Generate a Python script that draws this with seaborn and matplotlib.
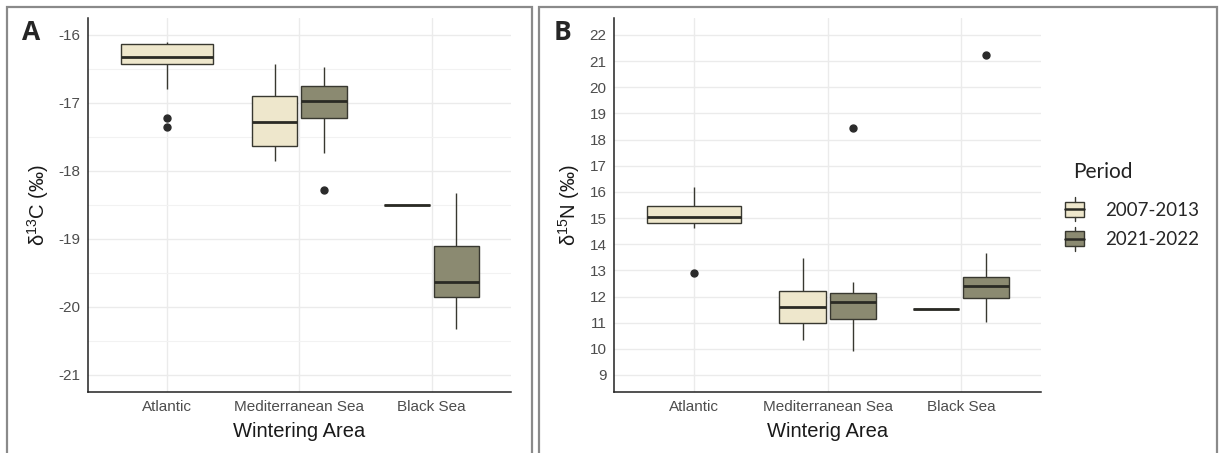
import matplotlib
matplotlib.use("Agg")
import matplotlib.pyplot as plt
from matplotlib.patches import Rectangle
from matplotlib.lines import Line2D
from matplotlib.legend_handler import HandlerBase
from matplotlib.ticker import MultipleLocator
import pandas as pd
import seaborn as sns

areas = ["Atlantic", "Mediterranean Sea", "Black Sea"]
periods = ["2007-2013", "2021-2022"]

c13_atlantic_0713 = [-17.35, -17.22, -16.80, -16.43, -16.40, -16.36, -16.32,
                     -16.25, -16.20, -16.13, -16.12, -16.11, -16.10]
c13_med_0713 = [-17.86, -17.75, -17.63, -17.45, -17.28, -17.10, -16.89, -16.65, -16.42]
c13_med_2122 = [-18.28, -17.74, -17.22, -17.10, -16.97, -16.88, -16.75, -16.60, -16.47]
c13_black_0713 = [-18.50, -18.50]
c13_black_2122 = [-20.33, -20.05, -19.85, -19.75, -19.63, -19.40, -19.11, -18.70, -18.32]

# delta 15N (per mil)
n15_atlantic_0713 = [12.91, 14.63, 14.70, 14.80, 14.90, 14.98, 15.05,
                     15.15, 15.30, 15.47, 15.70, 15.95, 16.17]
n15_med_0713 = [10.34, 10.70, 11.00, 11.30, 11.59, 11.90, 12.20, 12.80, 13.49]
n15_med_2122 = [9.93, 10.60, 11.14, 11.50, 11.79, 12.00, 12.15, 12.57, 18.43]
n15_black_0713 = [11.52, 11.52]
n15_black_2122 = [11.01, 11.50, 11.96, 12.20, 12.42, 12.60, 12.76, 13.68, 21.24]


def long_table(groups):
    rows = []
    for area, period, vals in groups:
        for v in vals:
            rows.append({"area": area, "period": period, "value": v})
    return pd.DataFrame(rows)


df_c = long_table([
    ("Atlantic", "2007-2013", c13_atlantic_0713),
    ("Mediterranean Sea", "2007-2013", c13_med_0713),
    ("Mediterranean Sea", "2021-2022", c13_med_2122),
    ("Black Sea", "2007-2013", c13_black_0713),
    ("Black Sea", "2021-2022", c13_black_2122),
])
df_n = long_table([
    ("Atlantic", "2007-2013", n15_atlantic_0713),
    ("Mediterranean Sea", "2007-2013", n15_med_0713),
    ("Mediterranean Sea", "2021-2022", n15_med_2122),
    ("Black Sea", "2007-2013", n15_black_0713),
    ("Black Sea", "2021-2022", n15_black_2122),
])

pal = {"2007-2013": "#EEE7CC", "2021-2022": "#8B8A71"}
edge = "#383830"

sns.set_style("white")
plt.rcParams["font.family"] = ["Liberation Sans", "DejaVu Sans"]
plt.rcParams["mathtext.fontset"] = "custom"
plt.rcParams["mathtext.rm"] = "Liberation Sans"
plt.rcParams["axes.unicode_minus"] = False

box_kw = dict(linecolor=edge, linewidth=1, saturation=1, showcaps=False,
              medianprops={"linewidth": 2, "color": "#2a2a24"},
              flierprops={"marker": "o", "markersize": 5,
                          "markerfacecolor": "#2b2b2b", "markeredgecolor": "#2b2b2b"})

fig = plt.figure(figsize=(12.2, 4.53), dpi=100)
ax_a = fig.add_axes([0.0719, 0.1347, 0.3470, 0.8256])
ax_b = fig.add_axes([0.5033, 0.1347, 0.3500, 0.8256])


def draw_panel(ax, df):
    atl = df[df["area"] == "Atlantic"]
    rest = df[df["area"] != "Atlantic"]
    sns.boxplot(data=atl, x="area", y="value", order=areas, color=pal["2007-2013"],
                width=0.7, ax=ax, **box_kw)
    sns.boxplot(data=rest, x="area", y="value", hue="period", order=areas,
                hue_order=periods, palette=pal, width=0.75, gap=0.08,
                legend=False, ax=ax, **box_kw)
    ax.set_xlim(-0.6, 2.6)
    for s in ["top", "right"]:
        ax.spines[s].set_visible(False)
    for s in ["left", "bottom"]:
        ax.spines[s].set_color("#222222")
        ax.spines[s].set_linewidth(1.1)
    ax.tick_params(axis="both", which="major", length=3.5, color="#333333",
                   labelcolor="#4D4D4D", labelsize=11, pad=2)
    ax.tick_params(axis="y", which="minor", length=0)
    ax.grid(True, axis="both", which="major", color="#EBEBEB", linewidth=1)
    ax.set_axisbelow(True)


draw_panel(ax_a, df_c)
ax_a.set_ylim(-21.25, -15.75)
ax_a.set_yticks(range(-21, -15))
ax_a.yaxis.set_minor_locator(MultipleLocator(0.5))
ax_a.grid(True, axis="y", which="minor", color="#F2F2F2", linewidth=0.8)
ax_a.set_xlabel("Wintering Area", fontsize=14.5, color="#1a1a1a", labelpad=6)
ax_a.set_ylabel(r"δ$^{13}$C (‰)", fontsize=14.5, color="#1a1a1a", labelpad=5)

draw_panel(ax_b, df_n)
ax_b.set_ylim(8.35, 22.65)
ax_b.set_yticks(range(9, 23))
ax_b.set_xlabel("Winterig Area", fontsize=14.5, color="#1a1a1a", labelpad=6)
ax_b.set_ylabel(r"δ$^{15}$N (‰)", fontsize=14.5, color="#1a1a1a", labelpad=5)

# panel letters
fig.text(0.018, 0.912, "A", fontsize=19, fontweight="bold", family=["Open Sans", "DejaVu Sans"])
fig.text(0.454, 0.912, "B", fontsize=19, fontweight="bold", family=["Open Sans", "DejaVu Sans"])

# grey frames around each panel
W, H = 1220, 453
fig.patches.append(Rectangle((7 / W, -0.05), (532 - 7) / W, (H - 7) / H + 0.05,
                             transform=fig.transFigure, fill=False,
                             edgecolor="#8a8a8a", linewidth=1.6))
fig.patches.append(Rectangle((539 / W, -0.05), (1217 - 539) / W, (H - 7) / H + 0.05,
                             transform=fig.transFigure, fill=False,
                             edgecolor="#8a8a8a", linewidth=1.6))


class BoxGlyph(HandlerBase):
    def create_artists(self, legend, orig, xd, yd, w, h, fs, trans):
        x0, y0 = -xd, -yd
        box = Rectangle((x0 + w * 0.15, y0), w * 0.7, h, facecolor=orig.get_facecolor(),
                        edgecolor=edge, linewidth=1, transform=trans)
        med = Line2D([x0 + w * 0.15, x0 + w * 0.85], [y0 + h / 2] * 2,
                     color="#2a2a24", linewidth=1.8, transform=trans)
        top = Line2D([x0 + w / 2] * 2, [y0 + h, y0 + h * 1.3], color=edge,
                     linewidth=1, transform=trans)
        bot = Line2D([x0 + w / 2] * 2, [y0, y0 - h * 0.3], color=edge,
                     linewidth=1, transform=trans)
        return [box, med, top, bot]


handles = [Rectangle((0, 0), 1, 1, facecolor=pal[p]) for p in periods]
leg = fig.legend(handles, periods, loc="upper left",
                 bbox_to_anchor=(0.8563, 0.592), frameon=False,
                 handler_map={Rectangle: BoxGlyph()}, handlelength=1.4,
                 handleheight=0.85, handletextpad=0.9, labelspacing=0.68,
                 prop={"family": ["Lato", "DejaVu Sans"], "size": 13.5})
fig.text(1073 / W, 1 - 172 / H, "Period", fontsize=15, color="#222222",
         va="center", ha="left", family=["Lato", "DejaVu Sans"])

fig.savefig("out.png", dpi=100)
